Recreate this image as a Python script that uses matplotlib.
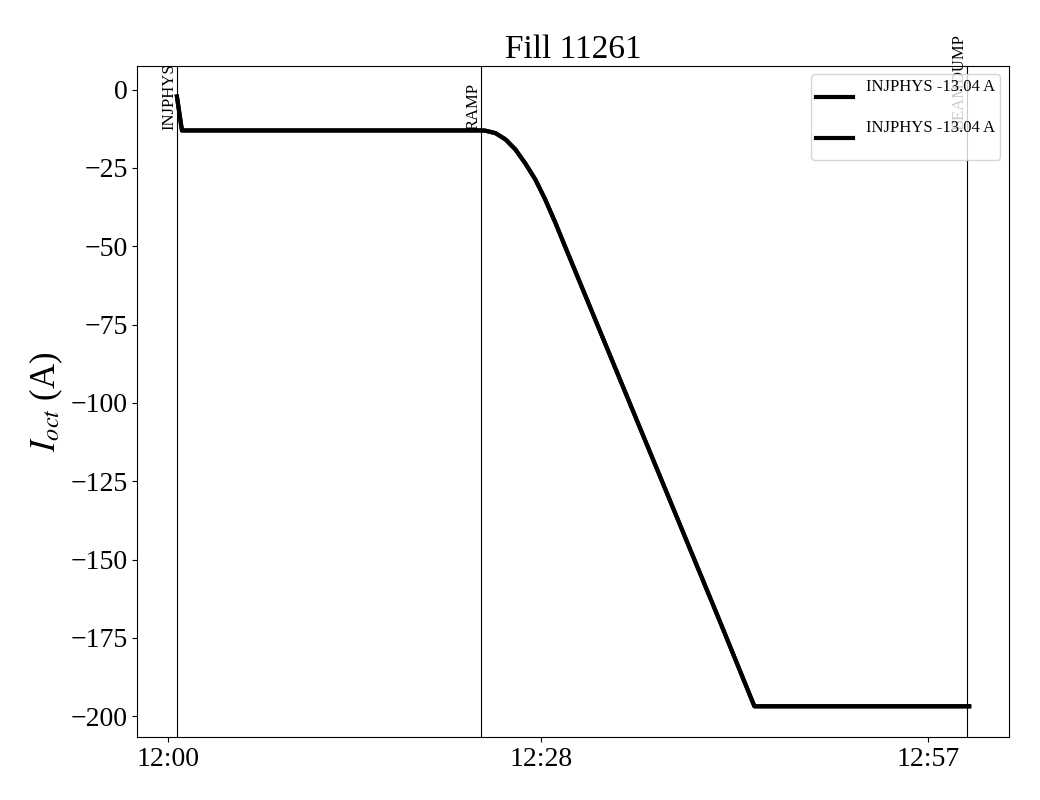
import numpy as np
import matplotlib
matplotlib.use("Agg")
from matplotlib import pyplot as plt

plt.rcParams['font.family'] = ['Liberation Serif', 'DejaVu Serif']
plt.rcParams['mathtext.fontset'] = 'stix'

# octupole current (minutes after 12:00, amps)
time_min = [0.67, 1.05, 23.5, 23.8, 24.57, 25.32, 26.06, 26.81, 27.56, 28.3,
            29.05, 29.8, 41.4, 43.99, 60.1]
current_A = [-2.2, -13.04, -13.04, -13.1, -13.9, -15.9, -19.1, -23.6, -28.7, -35.1,
             -42.4, -50.2, -169.7, -196.8, -196.8]

# beam modes
event_names = ['INJPHYS', 'RAMP', 'BEAMDUMP']
event_times = [0.67, 23.5, 59.97]
event_level = -13.04

tick_pos = [0, 28, 57]
tick_labels = ['12:00', '12:28', '12:57']

fig = plt.figure(figsize=(10.4, 8), dpi=100)
ax = fig.add_axes([0.132, 0.079, 0.838, 0.8385])

ax.plot(time_min, current_A, color='black', lw=3,
        label='INJPHYS -13.04 A\n')
ax.plot(time_min, current_A, color='black', lw=3,
        label='INJPHYS -13.04 A\n')

for name, t in zip(event_names, event_times):
    ax.axvline(t, color='black', lw=0.8)
    ax.text(t, event_level, name, rotation=90, ha='right', va='bottom',
            fontsize=12)

ax.set_xticks(tick_pos)
ax.set_xticklabels(tick_labels)
ax.tick_params(labelsize=20)
ax.set_ylabel('$I_{oct}$ (A)', fontsize=25)
ax.set_title('Fill 11261', fontsize=24)
ax.legend(loc='upper right', fontsize=12, handlelength=2.2,
          labelspacing=0.4, borderpad=0.3)

fig.savefig('out.png')
